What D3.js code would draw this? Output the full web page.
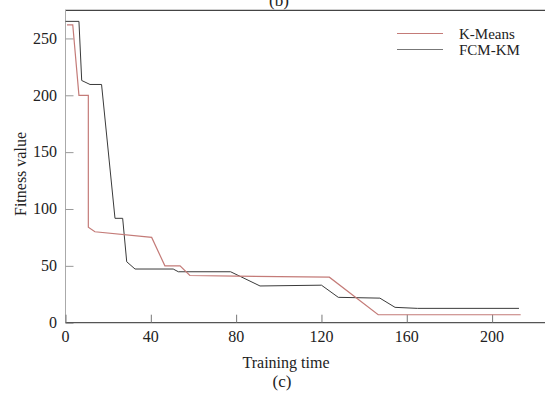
<!DOCTYPE html>
<html><head><meta charset="utf-8">
<script src="https://cdn.jsdelivr.net/npm/d3@7"></script>
<style>body{margin:0;background:#fff}svg{display:block}text{font-family:"Liberation Serif","Times New Roman",serif;fill:#222}</style>
</head><body>
<svg id="c" width="545" height="393"></svg>
<script>
const xTicks = [0, 40, 80, 120, 160, 200];
const yTicks = [0, 50, 100, 150, 200, 250];
const seriesNames = ["K-Means", "FCM-KM"];
const kMeansX = [0.7, 3.4, 6.3, 10.7, 10.7, 13.8, 40.4, 46.6, 53.7, 58.3, 80, 123.7, 146.6, 213.4];
const kMeansY = [262, 262, 200, 200, 84, 80, 75, 50, 50, 41.5, 41, 40, 7, 7];
const fcmX = [0, 6.3, 7.6, 11.5, 16.9, 23.2, 26.8, 28.7, 32.6, 50.5, 52.9, 77.4, 91.2, 120, 127.9, 147.4, 154.5, 165, 212.6];
const fcmY = [265, 265, 213, 209.5, 209.5, 91.8, 91.8, 53.6, 47.2, 47.2, 44.8, 44.8, 32.3, 33, 22.3, 21.6, 13.5, 12.6, 12.6];

const svg = d3.select("#c");
const x = d3.scaleLinear().domain([0, 224.8]).range([65.5, 545]);
const y = d3.scaleLinear().domain([0, 275]).range([322.7, 10]);

// top caption (clipped in the reference as well)
svg.append("text").attr("x", 279).attr("y", 6).attr("text-anchor", "middle").attr("font-size", 17).text("(b)");
// top border
svg.append("line").attr("x1", 65).attr("x2", 545).attr("y1", 10.3).attr("y2", 10.3).attr("stroke", "#444").attr("stroke-width", 1.2);

// y axis
const ya = svg.append("g").attr("transform", `translate(${x(0)},0)`)
  .call(d3.axisRight(y).tickValues(yTicks).tickSize(8).tickFormat(""));
ya.select(".domain").attr("stroke", "#aaa").attr("d", `M0,${y(0)}V10`);
ya.selectAll(".tick line").attr("stroke", "#999");
yTicks.forEach(v => svg.append("text").attr("x", 57).attr("y", y(v)).attr("dy", "0.33em")
  .attr("text-anchor", "end").attr("font-size", 16).text(v));

// x axis
const xa = svg.append("g").attr("transform", `translate(0,${y(0)})`)
  .call(d3.axisTop(x).tickValues(xTicks).tickSize(8).tickFormat(""));
xa.select(".domain").attr("stroke", "#555").attr("stroke-width", 1.2).attr("d", `M${x(0)},0H545`);
xa.selectAll(".tick line").attr("stroke", "#777");
xTicks.forEach(v => svg.append("text").attr("x", x(v)).attr("y", 342)
  .attr("text-anchor", "middle").attr("font-size", 16).text(v));

const line = d3.line().x(d => x(d[0])).y(d => y(d[1]));
const kData = kMeansX.map((v, i) => [v, kMeansY[i]]);
const fData = fcmX.map((v, i) => [v, fcmY[i]]);
svg.append("path").datum(fData).attr("d", line).attr("fill", "none").attr("stroke", "#3a3a3a").attr("stroke-width", 1);
svg.append("path").datum(kData).attr("d", line).attr("fill", "none").attr("stroke", "#c47b78").attr("stroke-width", 1.2);

// legend
const legColors = ["#c47b78", "#777"];
seriesNames.forEach((n, i) => {
  const ly = 33.5 + i * 16;
  svg.append("line").attr("x1", 397).attr("x2", 443).attr("y1", ly).attr("y2", ly).attr("stroke", legColors[i]).attr("stroke-width", 1.2);
  svg.append("text").attr("x", 459).attr("y", 38.8 + i * 16).attr("font-size", 15).attr("fill", "#333").text(n);
});

// axis titles
svg.append("text").attr("transform", "translate(26,174) rotate(-90)").attr("text-anchor", "middle").attr("font-size", 16).text("Fitness value");
svg.append("text").attr("x", 286).attr("y", 368).attr("text-anchor", "middle").attr("font-size", 16).text("Training time");
svg.append("text").attr("x", 282).attr("y", 387).attr("text-anchor", "middle").attr("font-size", 17).text("(c)");
</script>
</body></html>
